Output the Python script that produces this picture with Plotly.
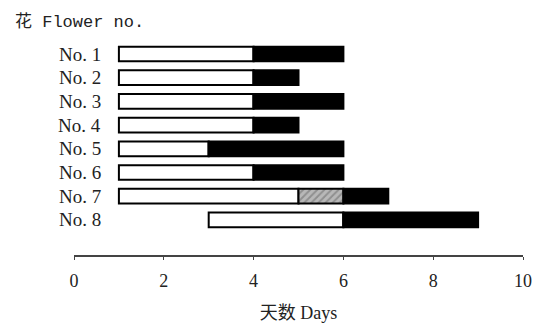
import plotly.graph_objects as go

flowers = ["No. 1", "No. 2", "No. 3", "No. 4", "No. 5", "No. 6", "No. 7", "No. 8"]
white_start = [1, 1, 1, 1, 1, 1, 1, 3]
white_end = [4, 4, 4, 4, 3, 4, 5, 6]
hatch_end = [4, 4, 4, 4, 3, 4, 6, 6]
black_end = [6, 5, 6, 5, 6, 6, 7, 9]
x_ticks = [0, 2, 4, 6, 8, 10]

FONT = "Liberation Serif, Noto Sans CJK SC, serif"
BW = 0.62

fig = go.Figure()
fig.add_trace(go.Bar(
    y=flowers, base=white_start,
    x=[e - s for s, e in zip(white_start, white_end)],
    orientation="h", width=BW,
    marker=dict(color="white", line=dict(color="black", width=2)),
    showlegend=False))
fig.add_trace(go.Bar(
    y=flowers, base=white_end,
    x=[h - w for w, h in zip(white_end, hatch_end)],
    orientation="h", width=BW,
    marker=dict(color="#9a9a9a", line=dict(color="black", width=2),
                pattern=dict(shape="/", fgcolor="#666666", bgcolor="#b8b8b8", size=5, solidity=0.4)),
    showlegend=False))
fig.add_trace(go.Bar(
    y=flowers, base=hatch_end,
    x=[b - h for h, b in zip(hatch_end, black_end)],
    orientation="h", width=BW,
    marker=dict(color="black", line=dict(color="black", width=2)),
    showlegend=False))

annotations = [dict(text="花 Flower no.", xref="paper", yref="paper",
                    x=-0.136, y=1.036, xanchor="left", yanchor="middle",
                    showarrow=False,
                    font=dict(family="Liberation Mono, Noto Sans CJK SC, monospace", size=17, color="#222"))]
for f in flowers:
    annotations.append(dict(text=f, xref="paper", yref="y", x=0, y=f, xshift=29,
                            xanchor="right", yanchor="middle", showarrow=False,
                            font=dict(family=FONT, size=19, color="#222")))

fig.update_layout(
    width=536, height=323,
    margin=dict(l=74, r=13, t=30, b=68, autoexpand=False),
    barmode="overlay",
    plot_bgcolor="white", paper_bgcolor="white",
    font=dict(family=FONT, size=18, color="#222"),
    xaxis=dict(range=[0, 10], tickvals=x_ticks, showline=True, linecolor="#444",
               linewidth=2, ticks="outside", ticklen=3, tickcolor="#444",
               showgrid=False, zeroline=False, automargin=False, ticklabelstandoff=5,
               title=dict(text="天数 Days", font=dict(family=FONT, size=18), standoff=21),
               tickfont=dict(family=FONT, size=18)),
    yaxis=dict(categoryorder="array", categoryarray=flowers, automargin=False,
               range=[8.48, -1.013], showline=False, showgrid=False, zeroline=False,
               ticks="", showticklabels=False),
    annotations=annotations,
)

fig.write_html("out.html", config={"displayModeBar": False},
               post_script="document.body.style.margin='0';document.body.style.overflow='hidden';")
